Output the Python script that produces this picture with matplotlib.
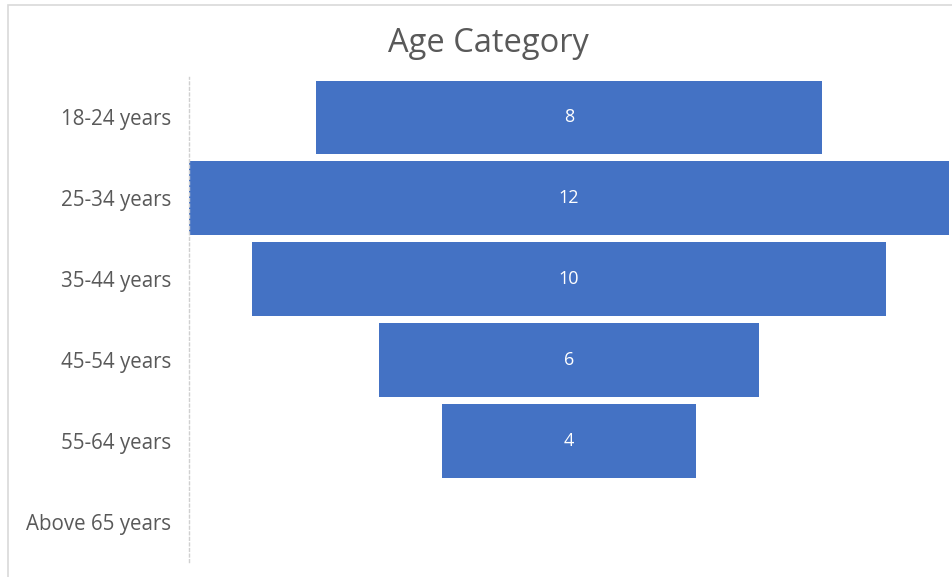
import matplotlib.pyplot as plt
from matplotlib.patches import Rectangle

plt.rcParams['font.family'] = ['Open Sans', 'DejaVu Sans']

categories = ['18-24 years', '25-34 years', '35-44 years',
              '45-54 years', '55-64 years', 'Above 65 years']
counts = [8, 12, 10, 6, 4, 0]

fig = plt.figure(figsize=(9.53, 5.77), dpi=100)

# chart border (only top and left are visible in the crop)
fig.add_artist(Rectangle((8/953, -0.1), 1.2, 1 - 5/577 + 0.1,
                         transform=fig.transFigure, fill=False,
                         edgecolor='#d9d9d9', linewidth=1.2))

ax = fig.add_axes([189/953, 1 - 562/577, (949 - 189)/953, (562 - 77)/577])

ypos = list(range(len(categories)))
lefts = [-c/2 for c in counts]
bars = ax.barh(ypos, counts, left=lefts, height=0.91, color='#4472C4')
for y, c in zip(ypos, counts):
    if c > 0:
        ax.text(0, y, str(c), ha='center', va='center', color='white', fontsize=13)

ax.set_xlim(-6, 6)
ax.set_ylim(len(categories) - 0.5, -0.5)
ax.set_yticks(ypos)
ax.set_yticklabels(categories, fontsize=14.8, color='#595959')
ax.tick_params(axis='y', length=0, pad=13)
ax.set_xticks([])
for s in ['top', 'right', 'bottom']:
    ax.spines[s].set_visible(False)
ax.spines['left'].set_color('#d0d0d0')
ax.spines['left'].set_linestyle((0, (2, 2)))
ax.spines['left'].set_linewidth(1)

fig.text(488/953, 1 - 43/577, 'Age Category', ha='center', va='center',
         fontsize=23.5, color='#595959')

fig.savefig('out.png', dpi=100)
